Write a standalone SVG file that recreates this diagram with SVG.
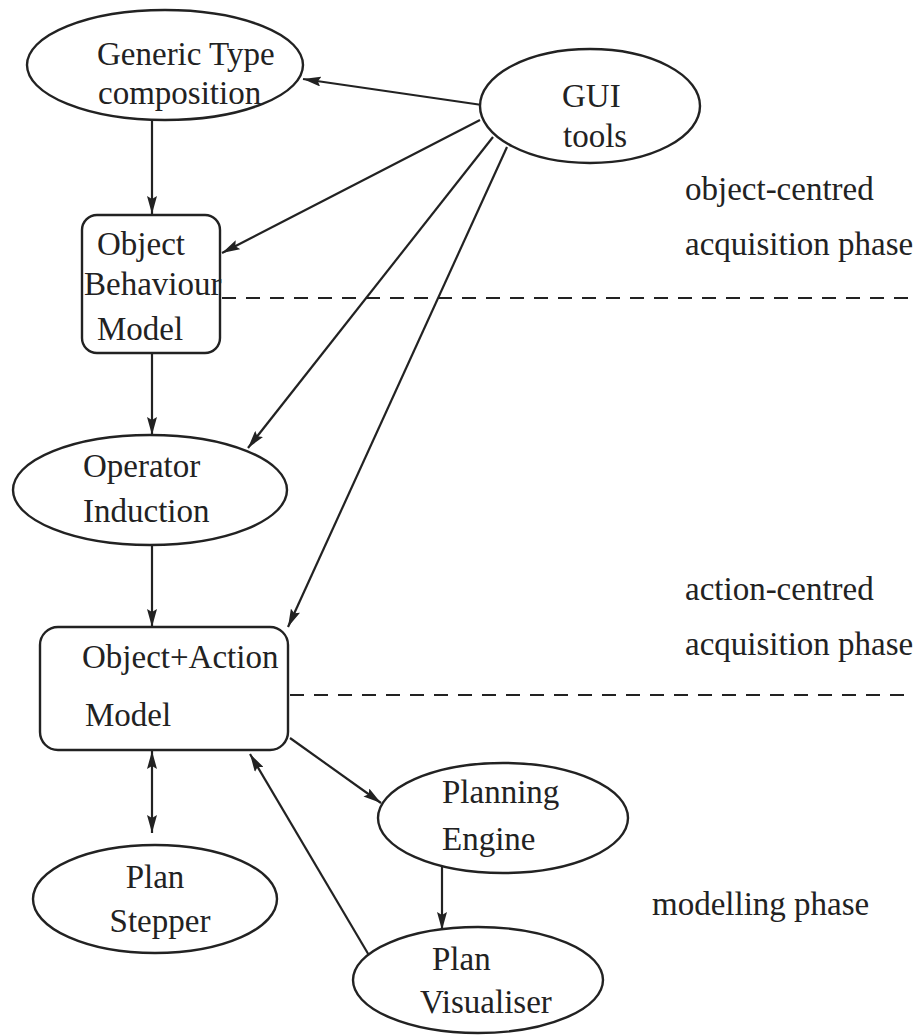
<svg xmlns="http://www.w3.org/2000/svg" width="918" height="1035" viewBox="0 0 918 1035">
<defs>
<style>
.n{fill:#fff;stroke:#222;stroke-width:2.4}
.t{font-family:'Liberation Serif','DejaVu Serif','Times New Roman',serif;font-size:33px;fill:#222}
.e{fill:none;stroke:#222;stroke-width:2.2}
.d{fill:none;stroke:#222;stroke-width:2;stroke-dasharray:14 10}
</style>
<marker id="a" viewBox="0 0 18 10" refX="18" refY="5" markerWidth="18" markerHeight="10" markerUnits="userSpaceOnUse" orient="auto-start-reverse">
<path d="M0,0 L18,5 L0,10 L3,5 z" fill="#222"/>
</marker>
</defs>
<rect width="918" height="1035" fill="#fff"/>
<g id="phases">
<line class="d" x1="222" y1="298" x2="908" y2="298"/>
<line class="d" x1="290" y1="695" x2="914" y2="695"/>
<text class="t" x="685" y="200">object-centred</text>
<text class="t" x="685" y="255">acquisition phase</text>
<text class="t" x="685" y="600">action-centred</text>
<text class="t" x="685" y="655">acquisition phase</text>
<text class="t" x="652" y="915">modelling phase</text>
</g>
<g id="connectors">
<line class="e" x1="482" y1="105" x2="303" y2="79" marker-end="url(#a)"/>
<line class="e" x1="480" y1="120" x2="222" y2="253" marker-end="url(#a)"/>
<line class="e" x1="493" y1="137" x2="248" y2="448" marker-end="url(#a)"/>
<line class="e" x1="507" y1="147" x2="288" y2="627" marker-end="url(#a)"/>
<line class="e" x1="152" y1="120" x2="152" y2="214" marker-end="url(#a)"/>
<line class="e" x1="152" y1="353" x2="152" y2="435" marker-end="url(#a)"/>
<line class="e" x1="152" y1="545" x2="152" y2="627" marker-end="url(#a)"/>
<line class="e" x1="152" y1="751" x2="152" y2="833" marker-start="url(#a)" marker-end="url(#a)"/>
<line class="e" x1="290" y1="738" x2="381" y2="803" marker-end="url(#a)"/>
<line class="e" x1="442" y1="867" x2="442" y2="930" marker-end="url(#a)"/>
<line class="e" x1="370" y1="957" x2="250" y2="754" marker-end="url(#a)"/>
</g>
<g id="generic">
<ellipse class="n" cx="165" cy="65" rx="138" ry="55"/>
<text class="t" x="97" y="65">Generic Type</text>
<text class="t" x="98" y="104">composition</text>
</g>
<g id="gui">
<ellipse class="n" cx="590" cy="106" rx="110" ry="57"/>
<text class="t" x="562" y="107">GUI</text>
<text class="t" x="563" y="147">tools</text>
</g>
<g id="obm">
<rect class="n" x="82" y="215" width="138" height="138" rx="15"/>
<text class="t" x="97" y="255">Object</text>
<text class="t" x="84" y="295">Behaviour</text>
<text class="t" x="97" y="340">Model</text>
</g>
<g id="opind">
<ellipse class="n" cx="150" cy="490" rx="137" ry="55"/>
<text class="t" x="83" y="477">Operator</text>
<text class="t" x="83" y="522">Induction</text>
</g>
<g id="oam">
<rect class="n" x="40" y="627" width="248" height="123" rx="18"/>
<text class="t" x="82" y="668">Object+Action</text>
<text class="t" x="85" y="726">Model</text>
</g>
<g id="stepper">
<ellipse class="n" cx="155" cy="899" rx="122" ry="54"/>
<text class="t" x="155" y="888" text-anchor="middle">Plan</text>
<text class="t" x="160" y="932" text-anchor="middle">Stepper</text>
</g>
<g id="engine">
<ellipse class="n" cx="503" cy="818" rx="125" ry="55"/>
<text class="t" x="442" y="803">Planning</text>
<text class="t" x="442" y="850">Engine</text>
</g>
<g id="visualiser">
<ellipse class="n" cx="478" cy="980" rx="125" ry="53"/>
<text class="t" x="432" y="970">Plan</text>
<text class="t" x="420" y="1013">Visualiser</text>
</g>
</svg>
